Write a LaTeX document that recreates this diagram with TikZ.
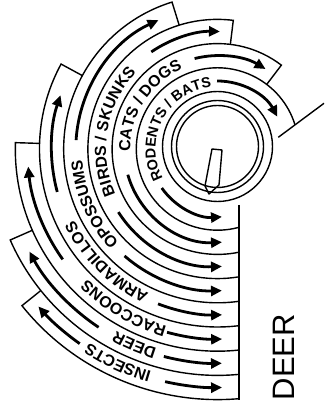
\documentclass[tikz,border=0pt]{standalone}
\usepackage{fontspec}
\setmainfont{Liberation Sans}
\usetikzlibrary{arrows.meta,decorations.text}
\newcommand\lblfont{\bfseries\fontsize{16}{16}\selectfont}
\newcommand\lblfonts{\bfseries\fontsize{14.5}{14.5}\selectfont}
\begin{document}
\begin{tikzpicture}[x=1pt,y=1pt,
  bnd/.style={line width=1.4pt,line join=miter},
  arr/.style={line width=2.8pt,-{Triangle[length=11pt,width=10pt]}},
  lbl/.style={decorate,decoration={text along path,text align=center,text={|\lblfont|#1}}},
  lbls/.style={decorate,decoration={text along path,text align=center,text={|\lblfonts|#1}}}]
\useasboundingbox (0,0) rectangle (324,417);
\coordinate (C) at (217.5,268);
\coordinate (K) at (217.5,270.5);
% knob
\draw[bnd] (K) circle[radius=55];
\draw[bnd] (K) circle[radius=46];
\draw[bnd] (K) circle[radius=41];
\draw[bnd,line join=round] (212,268) -- (222,267) -- (219,232) -- (209,223) -- (205,231) -- cycle;
% band outlines
\begin{scope}
\clip (0,0) -- (239,0) -- (239,268) -- (324,268) -- (324,417) -- (0,417) -- cycle;
\draw[bnd] (C) ++(-342.7:81.2) arc[start angle=-342.7,end angle=-60,radius=81.2];
\foreach \ri/\ro/\e in {81.2/105.4/-307.3, 105.4/129.6/-277, 129.6/153.8/-252.8,
  153.8/178/-208.5, 178/202.2/-181.8, 202.2/226.4/-156.3, 226.4/250.6/-141.3}
  \draw[bnd] (C) ++(\e:\ri) -- ++(\e:\ro-\ri) arc[start angle=\e,end angle=-60,radius=\ro];
\end{scope}
\coordinate (vt) at (239,212);
\coordinate (vb) at (239,17);
\draw[bnd] (vt) -- (vb);
\coordinate (s1) at (278.3,279.7);
\coordinate (s2) at (324,313.7);
\draw[bnd] (s1) -- (s2);
% down arrows (toward vertical line)
\foreach \a/\b/\r in {-145/-86.2/68, -164/-87.2/93.3, -147.5/-87.8/117.5, -131/-88.2/141.7,
  -111/-88.4/165.9, -105.4/-88.6/190.1, -104.5/-88.8/214.3, -102.7/-88.9/238.5}
  \draw[arr] (C) ++(\a:\r) arc[start angle=\a,end angle=\b,radius=\r];
% end arrows
\foreach \a/\b/\r in {-269.6/-331.7/68, -255.8/-301/93.3, -235.7/-271.2/117.5, -183.6/-245.4/141.7,
  -165/-198.9/165.9, -144.5/-174.7/190.1, -123.7/-151.4/214.3, -125.3/-138.7/238.5}
  \draw[arr] (C) ++(\a:\r) arc[start angle=\a,end angle=\b,radius=\r];
% labels
\path[lbls={RODENTS / BATS}] (C) ++(-118:62) arc[start angle=-118,end angle=-298,radius=62];
\path[lbl={CATS / DOGS}] (C) ++(-132.3:87.3) arc[start angle=-132.3,end angle=-292.3,radius=87.3];
\path[lbl={BIRDS / SKUNKS}] (C) ++(-119.8:111.5) arc[start angle=-119.8,end angle=-259.8,radius=111.5];
\path[lbl={OPOSSUMS}] (C) ++(-106:135.7) arc[start angle=-106,end angle=-206,radius=135.7];
\path[lbl={ARMADILLOS}] (C) ++(-89.5:159.9) arc[start angle=-89.5,end angle=-179.5,radius=159.9];
\path[lbl={RACCOONS}] (C) ++(-80.5:184.1) arc[start angle=-80.5,end angle=-160.5,radius=184.1];
\path[lbl={DEER}] (C) ++(-83:208.3) arc[start angle=-83,end angle=-143,radius=208.3];
\path[lbl={INSECTS}] (C) ++(-85:232.5) arc[start angle=-85,end angle=-145,radius=232.5];
\node[rotate=90,font=\fontsize{31}{31}\selectfont,inner sep=0pt] (deer) at (283.5,60) {DEER};
\end{tikzpicture}
\end{document}
